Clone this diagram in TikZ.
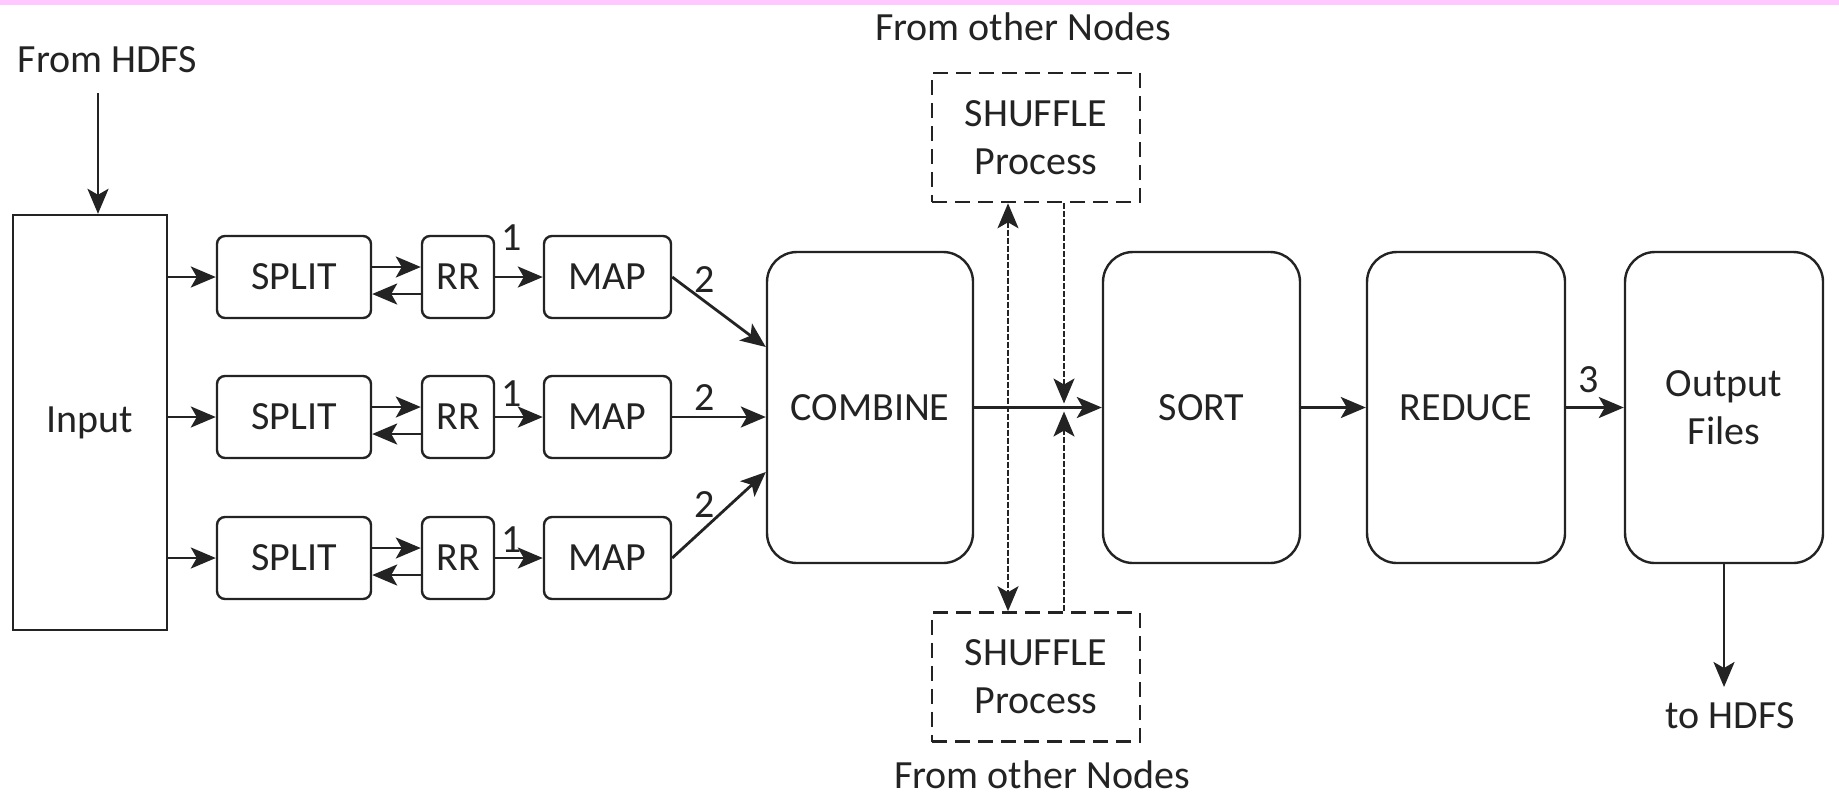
\documentclass[tikz,border=0pt]{standalone}
\usepackage{fontspec}
\setmainfont{Carlito}
\usepackage{tikz}
\usetikzlibrary{calc, arrows.meta, positioning}

\definecolor{ink}{RGB}{35,35,35}
\definecolor{topband}{RGB}{255,200,255}

\tikzset{
  blk/.style={draw, line width=1.2pt, rounded corners=4pt, minimum height=41pt, inner sep=0pt},
  bigblk/.style={draw, line width=1.2pt, rounded corners=15pt, minimum width=99pt, minimum height=155.5pt, inner sep=0pt, align=center},
  shufblk/.style={draw, line width=1.3pt, dash pattern=on 7.5pt off 4pt, minimum width=104pt, minimum height=64.5pt, inner sep=0pt, align=center},
  flow/.style={->, line width=1.4pt},
  shuf/.style={line width=1pt, dash pattern=on 3pt off 1pt},
  lbl/.style={inner sep=0pt, anchor=base},
  num/.style={inner sep=0pt},
}

\begin{document}
\begin{tikzpicture}[x=0.5pt, y=-0.5pt, color=ink, font=\fontsize{20}{24}\selectfont,
    >={Stealth[length=12.5pt, width=10.5pt, inset=3pt]}]
  \useasboundingbox (0,0) rectangle (1839,799);
  \fill[topband] (0,0) rectangle (1839,5);

  \node[lbl] (fromhdfs) at (107.5,72) {From HDFS};
  \coordinate (hdfsin) at (98,93);
  \node[draw, line width=1.2pt, minimum width=77pt, minimum height=207.5pt, inner sep=0pt] (input) at (90,422.5) {Input};
  \draw[flow] (hdfsin) -- (hdfsin |- input.north);

  \node[bigblk, minimum width=103pt] (combine) at (870,407.5) {COMBINE};
  \node[bigblk, minimum width=98.5pt] (sort) at (1201.5,407.5) {SORT};
  \node[bigblk] (reduce) at (1466,407.5) {REDUCE};
  \node[bigblk] (output) at (1724,407.5) {Output\\Files};

  \foreach \r/\y/\t in {1/277/238, 2/417/394, 3/558/540} {
      \node[blk, minimum width=77pt] (split\r) at (294,\y) {SPLIT};
      \node[blk, minimum width=36pt] (rr\r) at (458,\y) {RR};
      \node[blk, minimum width=63.5pt] (map\r) at (607.5,\y) {MAP};
      \node[num] (one\r) at (512,\t) {1};
      \draw[flow] (input.east |- split\r.west) -- (split\r.west);
      \draw[flow] ($(split\r.east)+(0,-10)$) -- ($(rr\r.west)+(0,-10)$);
      \draw[flow] ($(rr\r.west)+(0,17)$) -- ($(split\r.east)+(0,17)$);
      \draw[flow] (rr\r.east) -- (map\r.west);
  }

  \draw[flow] (map1.east) -- ([yshift=30.25pt]combine.west);
  \draw[flow] (map2.east) -- (map2.east -| combine.west);
  \draw[flow] (map3.east) -- ([yshift=-32.25pt]combine.west);
  \node[num] (two1) at (705,280) {2};
  \node[num] (two2) at (705,398) {2};
  \node[num] (two3) at (705,505) {2};

  \node[lbl] (othertop) at (1023,40) {From other Nodes};
  \node[shufblk] (shuftop) at (1036,137.5) {SHUFFLE\\Process};
  \node[shufblk] (shufbot) at (1036,677) {SHUFFLE\\Process};
  \node[lbl] (otherbot) at (1042,788) {From other Nodes};

  \coordinate (sa) at (1008,407.5);
  \coordinate (sb) at (1064,407.5);
  \draw[flow] (combine.east) -- (sort.west);
  \draw[shuf, <->] (shuftop.south -| sa) -- (shufbot.north -| sa);
  \draw[shuf, ->, shorten >=2pt] (shuftop.south -| sb) -- (sb);
  \draw[shuf, ->, shorten >=2pt] (shufbot.north -| sb) -- (sb);

  \draw[flow] (sort.east) -- (reduce.west);
  \draw[flow] (reduce.east) -- (output.west);
  \node[num] (three) at (1589,380) {3};

  \coordinate (hdfsout) at (1724,687);
  \draw[flow] (output.south) -- (hdfsout);
  \node[lbl] (tohdfs) at (1730,728) {to HDFS};
\end{tikzpicture}
\end{document}
